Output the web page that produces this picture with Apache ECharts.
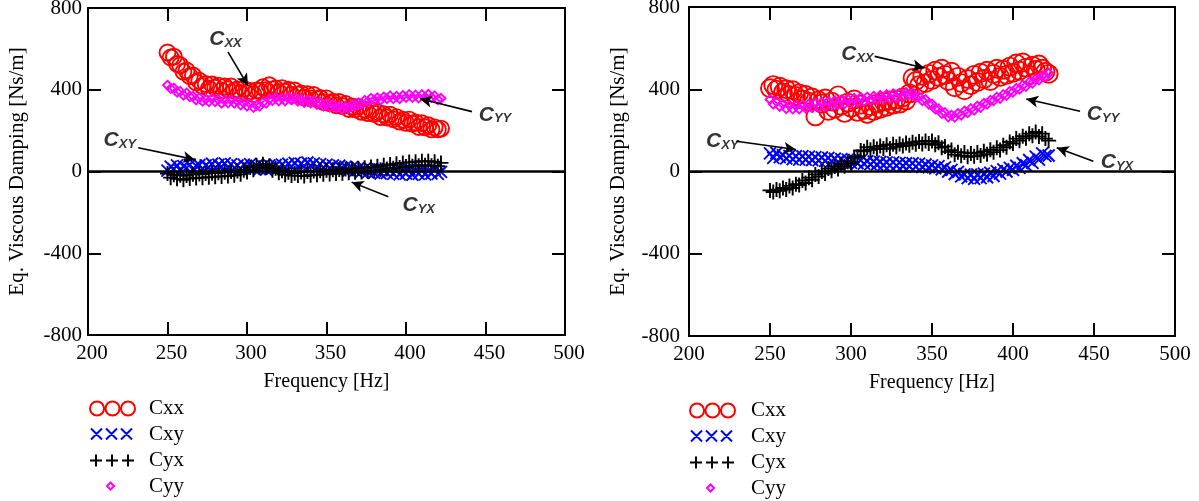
<!DOCTYPE html>
<html>
<head>
<meta charset="utf-8">
<title>Eq. Viscous Damping</title>
<script src="https://cdn.jsdelivr.net/npm/echarts@6/dist/echarts.min.js"></script>
<style>
  html, body { margin: 0; padding: 0; background: #ffffff; }
  #chart { width: 1199px; height: 501px; }
</style>
</head>
<body>
<div id="chart"></div>
<script>
// ---- measured frequencies [Hz] ----
const freq = [
  250,252,254,256,258,260,262,264,266,268,
  270,272,274,276,278,280,282,284,286,288,
  290,292,294,296,298,300,302,304,306,308,
  310,312,314,316,318,320,322,324,326,328,
  330,332,334,336,338,340,342,344,346,348,
  350,352,354,356,358,360,362,364,366,368,
  370,372,374,376,378,380,382,384,386,388,
  390,392,394,396,398,400,402,404,406,408,
  410,412,414,416,418,420,422
];

// ---- left chart: damping coefficients [Ns/m] ----
const cxxLeft = [
  582,558,562,526,520,488,494,466,470,436,
  444,418,428,406,426,410,420,396,416,402,
  416,396,402,384,404,382,394,378,396,394,
  412,398,422,402,406,388,408,390,400,376,
  396,376,382,362,378,358,374,354,360,340,
  358,334,342,324,340,320,330,306,318,304,
  316,292,304,286,302,282,290,266,280,264,
  278,256,266,244,254,238,254,234,240,218,
  236,216,226,206,216,206,210
];
const cxyLeft = [
  4,24,12,30,6,26,18,34,10,28,
  32,14,30,20,38,18,34,24,40,20,
  36,18,30,14,34,22,36,16,28,12,
  26,10,30,14,32,18,34,22,38,24,
  42,24,38,26,44,30,40,22,36,20,
  34,16,30,12,28,14,24,6,20,4,
  16,0,14,-4,10,-6,12,-10,8,-8,
  6,-12,8,-14,4,-10,10,-16,6,-12,
  8,-14,4,-10,10,-12,-2
];
const cyxLeft = [
  -10,-30,-16,-36,-18,-40,-20,-34,-14,-32,
  -12,-30,-10,-28,-8,-26,-6,-24,-4,-22,
  0,-18,2,-14,6,-2,20,8,30,18,
  36,18,28,6,16,-6,4,-16,-4,-20,
  -8,-20,-2,-22,0,-18,2,-16,4,-14,
  6,-12,8,-10,10,-8,12,-6,14,-4,
  16,-2,18,0,22,4,26,8,30,12,
  34,16,38,20,42,24,46,26,48,28,
  50,30,50,28,48,26,42
];
const cyyLeft = [
  422,406,408,388,392,374,384,366,368,350,
  360,344,354,342,356,342,352,334,348,336,
  350,334,344,326,336,320,332,314,324,320,
  338,334,354,348,360,346,358,346,362,350,
  360,344,352,338,350,336,346,328,336,320,
  332,316,328,312,320,304,316,310,326,320,
  336,330,348,342,358,350,360,350,364,356,
  370,356,368,356,372,362,376,362,374,360,
  376,362,378,362,370,352,358
];

// ---- right chart: damping coefficients [Ns/m] ----
const cxxRight = [
  405,420,398,412,385,400,372,395,368,380,
  350,372,340,360,268,345,330,355,295,340,
  305,370,320,285,335,310,350,290,325,300,
  280,318,295,330,305,340,315,345,325,350,
  330,360,345,380,455,440,420,465,430,475,
  445,490,460,500,470,440,485,410,460,430,
  395,450,420,470,435,480,450,490,440,475,
  500,460,495,470,510,480,525,490,530,505,
  470,515,495,520,500,485,475
];
const cxyRight = [
  88,66,90,70,80,64,76,60,74,58,
  74,58,72,56,70,54,68,52,66,50,
  62,46,60,44,58,42,56,40,54,38,
  50,36,48,34,46,32,44,30,44,30,
  42,28,40,26,40,24,38,22,34,20,
  30,16,26,10,20,0,8,-12,-2,-24,
  -14,-32,-16,-36,-14,-32,-10,-28,-6,-22,
  2,-10,10,0,18,8,28,18,40,30,
  56,42,72,58,88,76,78
];
const cyxRight = [
  -92,-100,-88,-94,-80,-88,-70,-80,-62,-66,
  -44,-56,-30,-40,-14,-24,0,-10,14,4,
  24,12,36,26,48,40,68,72,102,98,
  118,106,120,110,124,112,130,112,132,120,
  134,124,138,128,142,132,146,134,148,136,
  148,130,140,116,122,96,104,82,94,76,
  92,72,88,74,92,78,98,84,106,94,
  116,104,128,118,144,136,160,150,172,162,
  184,174,192,170,184,160,150
];
const cyyRight = [
  350,328,340,316,328,306,322,304,320,304,
  324,308,328,310,332,314,336,318,340,322,
  344,326,348,330,352,334,356,338,360,342,
  362,346,366,350,370,354,374,356,378,360,
  380,364,384,376,380,360,364,344,350,328,
  328,304,304,282,286,266,274,264,282,274,
  294,286,306,298,318,312,332,328,346,344,
  362,356,374,370,390,386,404,400,420,414,
  434,430,450,446,466,462,478
];

// ---- axis ticks ----
const xTicks = { min: 200, max: 500, step: 50 };
const yTicks = { min: -800, max: 800, step: 400 };
const seriesNames = ['Cxx', 'Cxy', 'Cyx', 'Cyy'];

// ---- callouts: [x, y, subscript] and arrows [x0, y0, x1, y1] in data units ----
const notesLeft = [[286.5, 649, 'XX'], [456, 280, 'YY'], [220, 156, 'XY'], [408, -163, 'YX']];
const arrowsLeft = [[288, 585, 300.6, 420], [441.5, 293, 408.8, 356], [231.6, 116, 267.3, 58], [388.9, -123, 365.8, -52]];
const notesRight = [[304, 573, 'XX'], [455.6, 281, 'YY'], [220.6, 148, 'XY'], [464.2, 46, 'YX']];
const arrowsRight = [[314.6, 560, 345.4, 503], [441.4, 293, 408.2, 353], [229.2, 147, 266, 107], [449.6, 50, 427, 115]];

// ---- drawing ----
const SERIF = "'Liberation Serif', 'Times New Roman', serif";
const SANS = "'Liberation Sans', Arial, sans-serif";
const COLORS = { Cxx: '#ff0000', Cxy: '#0000ff', Cyx: '#000000', Cyy: '#ff00ff' };
const MARKS = {
  Cxx: 'circle',
  Cxy: 'path://M0 0L10 10M10 0L0 10',
  Cyx: 'path://M5 0L5 10M0 5L10 5',
  Cyy: 'diamond'
};
const MARK_SIZE = { Cxy: 12, Cyx: 15, Cyy: 9 };

function toPoints(values) {
  return freq.map((f, i) => [f, values[i]]);
}

function circleArc(cx, cy, r) {
  return `M${cx - r} ${cy}a${r} ${r} 0 1 0 ${2 * r} 0a${r} ${r} 0 1 0 ${-2 * r} 0Z`;
}

// legend icons drawn in a w x 14 box (bounding corners fixed by the two moves)
function legendIcons(w) {
  const box = `M0 0M${w} 14`;
  return {
    Cxx: 'path://' + box + circleArc(8, 7, 7) + circleArc(23.5, 7, 7) + circleArc(39, 7, 7),
    Cxy: 'path://' + box + 'M2 1L13 12M13 1L2 12M17 1L28 12M28 1L17 12M32 1L43 12M43 1L32 12',
    Cyx: 'path://' + box + 'M7 1L7 13M1 7L13 7M23 1L23 13M17 7L29 7M39 1L39 13M33 7L45 7',
    Cyy: 'path://' + box + 'M21.5 3L25 6.5L21.5 10L18 6.5Z'
  };
}

function makeLegend(left, top, w) {
  const icons = legendIcons(w);
  return {
    orient: 'vertical', left: left, top: top, padding: 0,
    itemWidth: w, itemHeight: 14, itemGap: 5,
    selectedMode: false,
    textStyle: { fontFamily: SERIF, fontSize: 21, color: '#000' },
    data: seriesNames.map(n => ({
      name: n, icon: icons[n],
      itemStyle: { color: 'rgba(0,0,0,0)', borderColor: COLORS[n], borderWidth: 2 }
    }))
  };
}

function xAxes(gridIndex, labelPad) {
  const common = {
    type: 'value', gridIndex: gridIndex,
    min: xTicks.min, max: xTicks.max, interval: xTicks.step,
    axisLine: { show: true, onZero: false, lineStyle: { color: '#000', width: 2 } },
    axisTick: { show: true, inside: true, length: 13, lineStyle: { color: '#000', width: 2 } },
    splitLine: { show: false }
  };
  return [
    Object.assign({}, common, {
      position: 'bottom',
      axisLabel: { show: true, margin: 8, color: '#000', fontFamily: SERIF, fontSize: 21, padding: labelPad },
      name: 'Frequency [Hz]', nameLocation: 'middle', nameGap: 37,
      nameTextStyle: { color: '#000', fontFamily: SERIF, fontSize: 20 }
    }),
    Object.assign({}, common, { position: 'top', axisLabel: { show: false } })
  ];
}

function yAxes(gridIndex, labelMargin, labelPad) {
  const common = {
    type: 'value', gridIndex: gridIndex,
    min: yTicks.min, max: yTicks.max, interval: yTicks.step,
    axisLine: { show: true, onZero: false, lineStyle: { color: '#000', width: 2 } },
    axisTick: { show: true, inside: true, length: 13, lineStyle: { color: '#000', width: 2 } },
    splitLine: { show: false }
  };
  return [
    Object.assign({}, common, {
      position: 'left',
      axisLabel: { show: true, margin: labelMargin, color: '#000', fontFamily: SERIF, fontSize: 21, padding: labelPad },
      name: 'Eq. Viscous Damping [Ns/m]', nameLocation: 'middle', nameGap: 60, nameRotate: 90,
      nameTextStyle: { color: '#000', fontFamily: SERIF, fontSize: 21 }
    }),
    Object.assign({}, common, { position: 'right', axisLabel: { show: false } })
  ];
}

function plotSeries(axisIndex, values, circleSize, notes, arrows) {
  const list = seriesNames.map((n, k) => ({
    name: n, type: 'scatter',
    xAxisIndex: axisIndex, yAxisIndex: axisIndex,
    data: toPoints(values[k]),
    symbol: MARKS[n],
    symbolSize: n === 'Cxx' ? circleSize : MARK_SIZE[n],
    itemStyle: { color: 'rgba(0,0,0,0)', borderColor: COLORS[n], borderWidth: 1.9, opacity: 1 },
    emphasis: { disabled: true },
    silent: true
  }));
  // zero reference line
  list[0].markLine = {
    silent: true, symbol: ['none', 'none'], label: { show: false },
    lineStyle: { color: '#000', width: 2.5, type: 'solid' },
    emphasis: { disabled: true },
    data: [{ yAxis: 0 }]
  };
  // callout labels and their arrows
  list.push({
    name: 'callouts', type: 'scatter',
    xAxisIndex: axisIndex, yAxisIndex: axisIndex,
    data: notes, symbol: 'circle', symbolSize: 1,
    itemStyle: { color: 'rgba(0,0,0,0)' },
    silent: true, clip: false,
    label: {
      show: true, position: 'inside',
      formatter: p => `{c|C}{s|${p.data[2]}}`,
      rich: {
        c: { fontFamily: SANS, fontWeight: 'bold', fontStyle: 'italic', fontSize: 21, lineHeight: 22, color: '#000', verticalAlign: 'bottom' },
        s: { fontFamily: SANS, fontWeight: 'bold', fontStyle: 'italic', fontSize: 13, lineHeight: 11, color: '#000', verticalAlign: 'bottom' }
      }
    },
    markLine: {
      silent: true, symbol: ['none', 'arrow'], symbolSize: [9, 12],
      label: { show: false },
      lineStyle: { color: '#000', width: 1.6, type: 'solid' },
      emphasis: { disabled: true },
      data: arrows.map(a => [{ coord: [a[0], a[1]] }, { coord: [a[2], a[3]] }])
    }
  });
  return list;
}

const chart = echarts.init(document.getElementById('chart'), null, { renderer: 'canvas' });
chart.setOption({
  animation: false,
  backgroundColor: '#ffffff',
  grid: [
    { left: 88, top: 8, width: 477, height: 327, outerBoundsMode: 'none' },
    { left: 689, top: 7, width: 486, height: 329, outerBoundsMode: 'none' }
  ],
  xAxis: xAxes(0, [0, 0, 0, 8]).concat(xAxes(1, [0, 0, 0, 0])),
  yAxis: yAxes(0, 6, [10, 0, 0, 0]).concat(yAxes(1, 9, [0, 0, 0, 0])),
  legend: [makeLegend(88, 398, 55), makeLegend(688, 400, 57)],
  series: plotSeries(0, [cxxLeft, cxyLeft, cyxLeft, cyyLeft], 16, notesLeft, arrowsLeft)
    .concat(plotSeries(2, [cxxRight, cxyRight, cyxRight, cyyRight], 18, notesRight, arrowsRight))
});
</script>
</body>
</html>
